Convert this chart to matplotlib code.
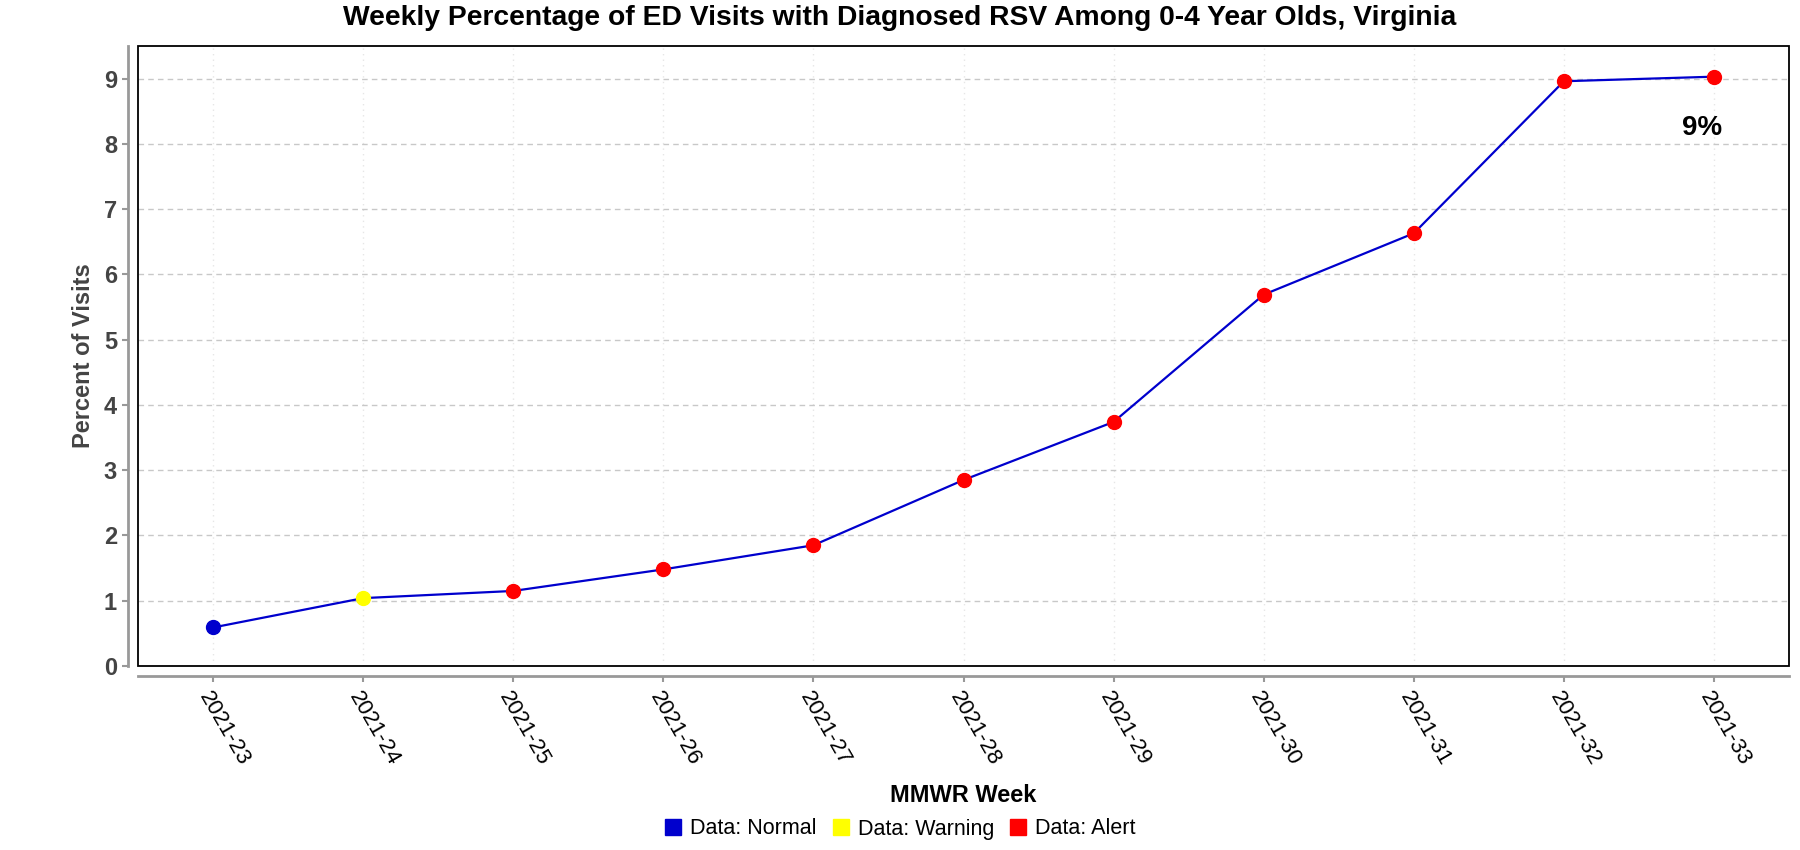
import matplotlib
matplotlib.use('Agg')
import matplotlib.pyplot as plt
from matplotlib.lines import Line2D
from matplotlib.patches import Rectangle

# data
weeks = ['2021-23', '2021-24', '2021-25', '2021-26', '2021-27', '2021-28',
         '2021-29', '2021-30', '2021-31', '2021-32', '2021-33']
pct = [0.59, 1.04, 1.15, 1.48, 1.85, 2.85, 3.74, 5.69, 6.63, 8.96, 9.03]
status = ['Normal', 'Warning', 'Alert', 'Alert', 'Alert', 'Alert',
          'Alert', 'Alert', 'Alert', 'Alert', 'Alert']
last_label = '9%'

colors = {'Normal': '#0000CD', 'Warning': '#FFFF00', 'Alert': '#FF0000'}
legend_names = {'Normal': 'Data: Normal', 'Warning': 'Data: Warning', 'Alert': 'Data: Alert'}

plt.rcParams['font.family'] = ['Liberation Sans', 'DejaVu Sans']

fig = plt.figure(figsize=(18, 8.5), dpi=100)
ax = fig.add_axes([138/1800, 1 - 666/850, (1789 - 138)/1800, (666 - 46)/850])

x = list(range(len(weeks)))
ax.plot(x, pct, color='#0000CD', lw=1.6, zorder=3)
for xi, yi, st in zip(x, pct, status):
    ax.plot(xi, yi, 'o', ms=10, color=colors[st], mec=colors[st], zorder=4)

ax.text(x[-1] - 0.08, 8.24, last_label, ha='center', va='center',
        fontsize=20, fontweight='bold', color='black', zorder=5)

ax.set_xlim(-0.5, len(weeks) - 0.5)
ax.set_ylim(0, 9.5)

ax.grid(axis='y', ls=(0, (4, 3)), color='#C8C8C8', lw=1)
ax.grid(axis='x', ls=(0, (1, 3)), color='#E6E6E6', lw=1)
ax.set_axisbelow(True)

# ggplot-ish axes: gray offset axis lines plus a black panel box
for s in ['top', 'right']:
    ax.spines[s].set_visible(False)
for s in ['left', 'bottom']:
    ax.spines[s].set_position(('outward', 7.2))
    ax.spines[s].set_color('#999999')
    ax.spines[s].set_linewidth(2)
ax.tick_params(axis='both', colors='#999999', width=1.5, length=4, direction='out')
ax.tick_params(axis='y', labelcolor='#444444', pad=4)
ax.tick_params(axis='x', labelcolor='black', pad=5)
ax.add_patch(Rectangle((0, 0), 1, 1, transform=ax.transAxes, fill=False,
                       ec='black', lw=1.3, clip_on=False, zorder=6))

# tick labels after tick_params so they are not reset
ax.set_yticks(range(0, 10))
ax.set_yticklabels([str(v) for v in range(0, 10)], fontsize=17, fontweight='bold',
                   color='#444444')
ax.set_xticks(x)
ax.set_xticklabels(weeks, rotation=-60, ha='left', va='top',
                   rotation_mode='anchor', fontsize=16, color='black')

ax.set_ylabel('Percent of Visits', fontsize=17, fontweight='bold', color='#444444', labelpad=6)
ax.set_xlabel('MMWR Week', fontsize=17, fontweight='bold', color='black', va='center')
ax.xaxis.set_label_coords(0.5, -(795 - 666)/620)

fig.suptitle('Weekly Percentage of ED Visits with Diagnosed RSV Among 0-4 Year Olds, Virginia',
             fontsize=20.3, fontweight='bold', x=0.5, y=1 - 18/850, va='center')

handles = [Line2D([], [], ls='none', marker='s', ms=12, color=colors[k], mec=colors[k],
                  label=legend_names[k]) for k in ['Normal', 'Warning', 'Alert']]
fig.legend(handles=handles, loc='center', bbox_to_anchor=(0.5, 1 - 829/850), ncol=3,
           frameon=False, fontsize=15.5, handlelength=0.8, handletextpad=0.4,
           columnspacing=0.7)

fig.savefig('out.png', dpi=100)
